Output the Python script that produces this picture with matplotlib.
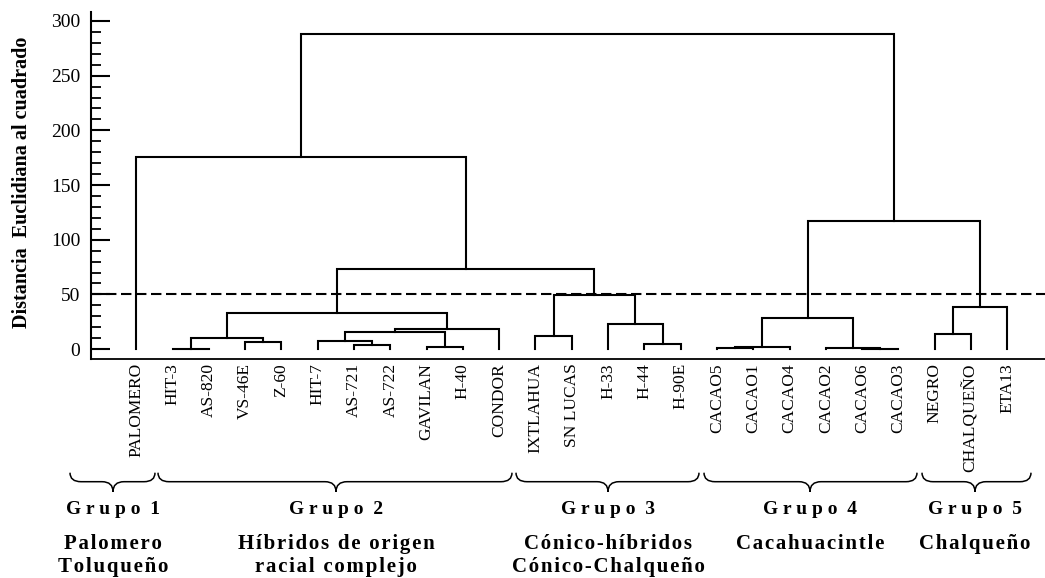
import matplotlib.pyplot as plt
from matplotlib.path import Path
from matplotlib.patches import PathPatch
from matplotlib.ticker import MultipleLocator

plt.rcParams['font.family'] = ['Liberation Serif', 'DejaVu Serif']

# leaves, in the order they appear on the x axis
leaf_names = ["PALOMERO", "HIT-3", "AS-820", "VS-46E", "Z-60", "HIT-7", "AS-721",
              "AS-722", "GAVILAN", "H-40", "CONDOR", "IXTLAHUA", "SN LUCAS", "H-33",
              "H-44", "H-90E", "CACAO5", "CACAO1", "CACAO4", "CACAO2", "CACAO6",
              "CACAO3", "NEGRO", "CHALQUEÑO", "ETA13"]

# merges (linkage style): merge k makes cluster 25+k
merge_a = [20, 16, 1, 19, 26, 8, 6, 14, 3, 5, 27, 11, 22, 34, 38, 13, 29, 35, 37, 36, 42, 41, 0, 47]
merge_b = [21, 17, 2, 25, 18, 9, 7, 15, 4, 31, 33, 12, 23, 30, 10, 32, 28, 39, 24, 40, 44, 43, 45, 46]
merge_h = [0.3, 0.6, 0.5, 1.2, 1.8, 1.8, 3.9, 4.6, 6.1, 7.6, 9.8, 11.6, 13.7, 15.8,
           18.3, 23.2, 28.0, 32.9, 38.7, 49.4, 73.2, 117.4, 175.9, 288.1]

cut_height = 50

group_words = ["Grupo", "Grupo", "Grupo", "Grupo", "Grupo"]
group_nums = ["1", "2", "3", "4", "5"]
group_desc = [["Palomero", "Toluqueño"],
              ["Híbridos de origen", "racial complejo"],
              ["Cónico-híbridos", "Cónico-Chalqueño"],
              ["Cacahuacintle"],
              ["Chalqueño"]]

W, H = 1045, 578
fig = plt.figure(figsize=(W / 100, H / 100), dpi=100)
ax = fig.add_axes([90.7 / W, 1 - 359 / H, 1 - 90.7 / W, (359 - 11.7) / H])

# dendrogram
xpos = [float(i) for i in range(len(leaf_names))]
ypos = [0.0] * len(leaf_names)
for a, b, h in zip(merge_a, merge_b, merge_h):
    ax.plot([xpos[a], xpos[a], xpos[b], xpos[b]], [ypos[a], h, h, ypos[b]],
            color='black', lw=1.5, solid_joinstyle='miter')
    xpos.append((xpos[a] + xpos[b]) / 2)
    ypos.append(h)

ax.axhline(cut_height, color='black', lw=1.5, ls=(0, (5, 2.2)))

ax.set_xlim(-1.257, 25.04)
ax.set_ylim(-9.1, 308.5)
ax.spines['top'].set_visible(False)
ax.spines['right'].set_visible(False)
ax.spines['left'].set_linewidth(1.5)
ax.spines['bottom'].set_linewidth(1.3)

ax.set_yticks(range(0, 301, 50))
ax.yaxis.set_minor_locator(MultipleLocator(10))
ax.tick_params(axis='y', which='major', direction='in', length=14, width=1.5,
               labelsize=14, pad=7.5)
ax.tick_params(axis='y', which='minor', direction='in', length=7, width=1.3)
ax.set_xticks(range(len(leaf_names)))
ax.set_xticklabels(leaf_names, rotation=90, fontsize=12.5)
ax.tick_params(axis='x', length=0, pad=3)

fig.text(22.5 / W, 1 - 182.5 / H, "Distancia  Euclidiana al cuadrado", rotation=90,
         ha='center', va='center', fontsize=14.5, fontweight='bold')

# braces and group captions (pixel overlay)
ov = fig.add_axes([0, 0, 1, 1])
ov.set_xlim(0, W)
ov.set_ylim(H, 0)
ov.axis('off')
ov.patch.set_alpha(0)

brace_spans = [(70, 155, 113), (158, 512, 336), (516, 699, 608), (704, 917, 810), (922, 1031, 975)]
y_top, y_mid, y_tip, r = 472.7, 481.7, 491.7, 11


def brace(x0, x1, xm):
    verts = [(x0, y_top), (x0, y_mid), (x0 + r, y_mid),
             (xm - r, y_mid), (xm, y_mid), (xm, y_tip),
             (xm, y_mid), (xm + r, y_mid),
             (x1 - r, y_mid), (x1, y_mid), (x1, y_top)]
    codes = [Path.MOVETO, Path.CURVE3, Path.CURVE3,
             Path.LINETO, Path.CURVE3, Path.CURVE3,
             Path.CURVE3, Path.CURVE3,
             Path.LINETO, Path.CURVE3, Path.CURVE3]
    ov.add_patch(PathPatch(Path(verts, codes), fill=False, lw=1.1, color='black'))


def spaced(s):
    return "\u200a".join(s)


for (x0, x1, xm), word, num, desc in zip(brace_spans, group_words, group_nums, group_desc):
    brace(x0, x1, xm)
    ov.text(xm, 510, " ".join(word) + "  " + num, ha='center', va='center',
            fontsize=14, fontweight='bold')
    for k, line in enumerate(desc):
        ov.text(xm, 544.3 + 23 * k, spaced(line), ha='center', va='center',
                fontsize=15, fontweight='bold')

fig.savefig("out.png", dpi=100)
